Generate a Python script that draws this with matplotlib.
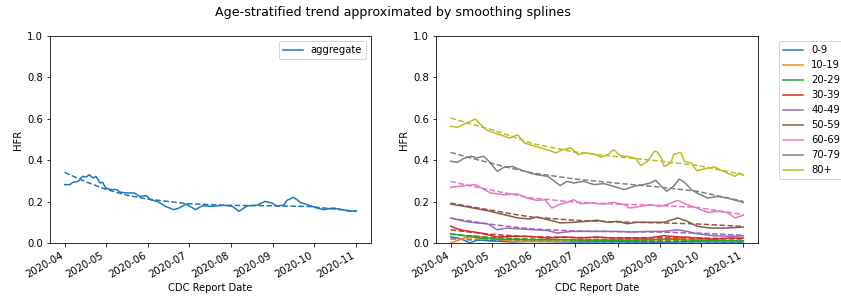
import numpy as np
import pandas as pd
import matplotlib
matplotlib.use("Agg")
import matplotlib.pyplot as plt
import matplotlib.dates as mdates

# ─── data (days since 2020-04-01) ───────────────────────────────────────────
START = pd.Timestamp("2020-04-01")

agg_days = [0, 4, 6, 10, 13, 16, 18, 21, 23, 26, 28, 30, 34, 38, 41, 46, 51, 55, 60, 63,
            68, 74, 80, 84, 89, 92, 96, 101, 107, 117, 123, 128, 134, 141, 147, 152, 156,
            161, 163, 168, 173, 178, 185, 190, 197, 204, 209, 214]
agg_vals = [0.282, 0.282, 0.293, 0.298, 0.322, 0.319, 0.330, 0.314, 0.322, 0.290, 0.293,
            0.266, 0.258, 0.258, 0.245, 0.242, 0.242, 0.225, 0.229, 0.209, 0.201, 0.177,
            0.161, 0.169, 0.188, 0.177, 0.161, 0.180, 0.177, 0.182, 0.177, 0.153, 0.180,
            0.182, 0.201, 0.193, 0.177, 0.185, 0.206, 0.221, 0.196, 0.185, 0.169, 0.161,
            0.169, 0.161, 0.153, 0.156]

# smoothing spline trend, read at a few knots
smooth_days = [0, 15, 30, 45, 60, 90, 120, 150, 180, 214]
agg_smooth = [0.341, 0.297, 0.260, 0.232, 0.213, 0.190, 0.182, 0.180, 0.176, 0.153]

age_groups = ["0-9", "10-19", "20-29", "30-39", "40-49", "50-59", "60-69", "70-79", "80+"]

d_0_9 = [0, 8, 14, 20, 30, 45, 60, 90, 120, 150, 180, 214]
v_0_9 = [0.030, 0.020, 0.000, 0.015, 0.010, 0.005, 0.008, 0.005, 0.006, 0.004, 0.006, 0.005]

d_10_19 = [0, 10, 17, 27, 46, 83, 107, 132, 156, 175, 180, 205, 214]
v_10_19 = [0.000, 0.024, 0.035, 0.024, 0.008, 0.008, 0.016, 0.013, 0.016, 0.029, 0.013, 0.008, 0.011]

d_20_29 = [0, 10, 22, 34, 58, 83, 107, 132, 156, 180, 214]
v_20_29 = [0.045, 0.035, 0.024, 0.019, 0.016, 0.016, 0.013, 0.013, 0.019, 0.013, 0.011]

d_30_39 = [0, 5, 10, 22, 34, 46, 58, 71, 83, 95, 107, 119, 132, 144, 156, 168, 180, 192, 205, 214]
v_30_39 = [0.081, 0.068, 0.060, 0.048, 0.029, 0.032, 0.032, 0.024, 0.029, 0.024, 0.029,
           0.024, 0.024, 0.024, 0.035, 0.029, 0.024, 0.019, 0.024, 0.024]

d_40_49 = [0, 10, 19, 27, 34, 41, 51, 61, 71, 78, 88, 97, 107, 122, 132, 144, 156, 166,
           175, 180, 192, 205, 214]
v_40_49 = [0.121, 0.105, 0.097, 0.093, 0.064, 0.072, 0.068, 0.064, 0.060, 0.048, 0.056,
           0.056, 0.056, 0.056, 0.053, 0.056, 0.056, 0.064, 0.053, 0.045, 0.035, 0.032, 0.035]

d_50_59 = [0, 10, 19, 29, 39, 49, 58, 63, 71, 80, 90, 100, 107, 115, 122, 129, 136, 146,
           156, 166, 173, 180, 190, 200, 214]
v_50_59 = [0.188, 0.177, 0.166, 0.153, 0.137, 0.121, 0.116, 0.126, 0.113, 0.097, 0.100,
           0.105, 0.110, 0.100, 0.105, 0.093, 0.100, 0.100, 0.100, 0.121, 0.105, 0.081,
           0.072, 0.072, 0.077]

d_60_69 = [0, 10, 18, 24, 29, 39, 49, 56, 63, 69, 74, 79, 85, 90, 95, 102, 112, 119, 127,
           131, 139, 146, 153, 160, 166, 173, 180, 188, 195, 202, 208, 214]
v_60_69 = [0.269, 0.277, 0.282, 0.261, 0.242, 0.233, 0.237, 0.217, 0.206, 0.209, 0.169,
           0.185, 0.196, 0.209, 0.190, 0.193, 0.188, 0.196, 0.185, 0.169, 0.177, 0.185,
           0.177, 0.190, 0.206, 0.185, 0.169, 0.148, 0.153, 0.148, 0.121, 0.134]

d_70_79 = [0, 5, 10, 15, 19, 24, 28, 34, 39, 45, 51, 58, 63, 71, 76, 80, 85, 90, 97, 105,
           112, 119, 127, 134, 141, 146, 150, 154, 158, 163, 167, 171, 176, 180, 188, 195,
           202, 207, 214]
v_70_79 = [0.395, 0.390, 0.410, 0.419, 0.411, 0.419, 0.395, 0.346, 0.366, 0.370, 0.354,
           0.338, 0.330, 0.322, 0.298, 0.277, 0.298, 0.290, 0.298, 0.282, 0.287, 0.274,
           0.258, 0.274, 0.282, 0.290, 0.303, 0.274, 0.250, 0.274, 0.309, 0.293, 0.258,
           0.242, 0.217, 0.225, 0.217, 0.209, 0.196]

d_80 = [0, 5, 10, 13, 18, 22, 26, 32, 38, 43, 49, 54, 58, 66, 72, 77, 82, 88, 93, 99, 105,
        110, 115, 119, 124, 132, 135, 139, 144, 149, 151, 154, 156, 161, 163, 168, 171,
        176, 180, 188, 193, 197, 202, 208, 211, 214]
v_80 = [0.564, 0.559, 0.575, 0.583, 0.599, 0.572, 0.547, 0.531, 0.519, 0.507, 0.523, 0.483,
        0.475, 0.459, 0.448, 0.435, 0.451, 0.459, 0.427, 0.435, 0.430, 0.414, 0.427, 0.451,
        0.422, 0.415, 0.410, 0.374, 0.395, 0.443, 0.440, 0.410, 0.370, 0.386, 0.427, 0.438,
        0.395, 0.386, 0.349, 0.362, 0.367, 0.354, 0.338, 0.322, 0.338, 0.327]

s_0_9   = [0.020, 0.015, 0.012, 0.010, 0.008, 0.007, 0.006, 0.006, 0.006, 0.005]
s_10_19 = [0.018, 0.020, 0.018, 0.015, 0.013, 0.012, 0.013, 0.014, 0.014, 0.012]
s_20_29 = [0.042, 0.034, 0.027, 0.022, 0.019, 0.016, 0.015, 0.015, 0.014, 0.012]
s_30_39 = [0.064, 0.052, 0.042, 0.035, 0.030, 0.027, 0.025, 0.025, 0.024, 0.020]
s_40_49 = [0.120, 0.105, 0.090, 0.078, 0.068, 0.058, 0.055, 0.053, 0.048, 0.037]
s_50_59 = [0.193, 0.175, 0.158, 0.140, 0.125, 0.110, 0.102, 0.098, 0.092, 0.080]
s_60_69 = [0.298, 0.275, 0.255, 0.235, 0.217, 0.198, 0.188, 0.182, 0.172, 0.137]
s_70_79 = [0.438, 0.410, 0.385, 0.360, 0.338, 0.310, 0.290, 0.272, 0.250, 0.201]
s_80    = [0.604, 0.575, 0.547, 0.515, 0.480, 0.440, 0.418, 0.398, 0.375, 0.330]

raw_days = [d_0_9, d_10_19, d_20_29, d_30_39, d_40_49, d_50_59, d_60_69, d_70_79, d_80]
raw_vals = [v_0_9, v_10_19, v_20_29, v_30_39, v_40_49, v_50_59, v_60_69, v_70_79, v_80]
smooth_vals = [s_0_9, s_10_19, s_20_29, s_30_39, s_40_49, s_50_59, s_60_69, s_70_79, s_80]


def to_dates(days):
    return START + pd.to_timedelta(days, unit="D")


# ─── figure ─────────────────────────────────────────────────────────────────
W, H, DPI = 841, 307, 72
fig = plt.figure(figsize=(W / DPI, H / DPI), dpi=DPI)
ax1 = fig.add_axes([50 / W, 1 - 243 / H, 321 / W, 207 / H])
ax2 = fig.add_axes([436 / W, 1 - 243 / H, 322 / W, 207 / H])

colors = plt.rcParams["axes.prop_cycle"].by_key()["color"]

ax1.plot(to_dates(agg_days), agg_vals, color=colors[0], label="aggregate")
ax1.plot(to_dates(smooth_days), agg_smooth, color=colors[0], ls="--")
ax1.legend(loc="upper right")

for i, name in enumerate(age_groups):
    ax2.plot(to_dates(raw_days[i]), raw_vals[i], color=colors[i], label=name)
    ax2.plot(to_dates(smooth_days), smooth_vals[i], color=colors[i], ls="--")
ax2.legend(loc="upper left", bbox_to_anchor=(1.05, 1))

for ax in (ax1, ax2):
    ax.set_ylim(0, 1.0)
    ax.set_ylabel("HFR")
    ax.set_xlabel("CDC Report Date")
    ax.xaxis.set_major_locator(mdates.MonthLocator())
    ax.xaxis.set_major_formatter(mdates.DateFormatter("%Y-%m"))
    plt.setp(ax.get_xticklabels(), rotation=30, ha="right")

# original figure was wider (legend clipped), so the title sits left of centre
fig.suptitle("Age-stratified trend approximated by smoothing splines", x=0.467, fontsize=12.6)
fig.savefig("out.png", dpi=DPI)
